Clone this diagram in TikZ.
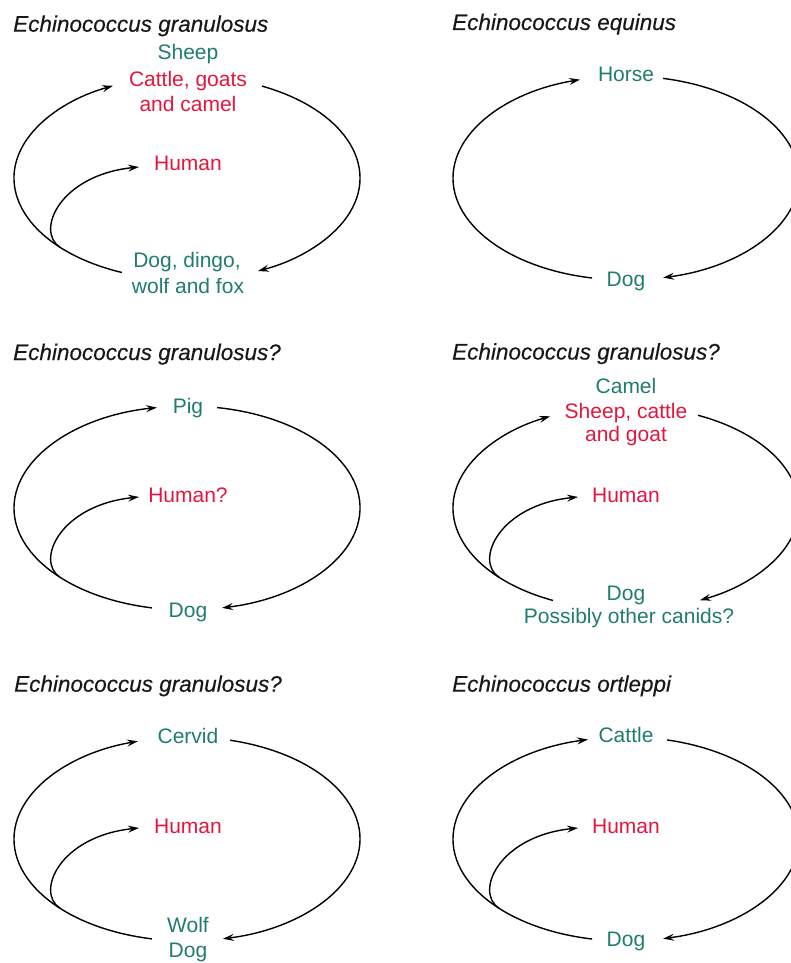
\documentclass[tikz,border=0pt]{standalone}
\usepackage{fontspec}
\setmainfont{Liberation Sans}
\newfontface\speciesface[FakeBold=0.35]{Liberation Sans Italic}
\usetikzlibrary{arrows.meta,calc}

\definecolor{hostteal}{RGB}{32,124,110}
\definecolor{hostred}{RGB}{228,22,62}
\definecolor{titleink}{RGB}{24,24,24}

\tikzset{
  cyclearrow/.style={draw=black, line width=1.4pt,
    -{Stealth[length=11pt,width=7pt,inset=4pt]}},
  species/.style={font=\fontsize{22.5}{27}\speciesface, text=titleink,
    anchor=base west, inner sep=0pt},
  host/.style={font=\fontsize{21}{25.5}\selectfont, anchor=base, inner sep=0pt},
  definitive/.style={host, text=hostteal},
  intermediate/.style={host, text=hostred},
}

% Elliptical life cycle: #1 prefix, #2/#3 centre, #4 lower-left start angle,
% #5 upper-left end angle, #6 upper-right start angle, #7 lower-right end angle
\newcommand\hostcycle[7]{%
  \coordinate (#1c) at (#2,#3);
  \coordinate (#1ls) at ($(#1c)+(#4:173 and 102)$);
  \coordinate (#1rs) at ($(#1c)+(#6:173 and 102)$);
  \draw[cyclearrow] (#1ls) arc[start angle=#4, end angle=#5, x radius=173, y radius=102];
  \draw[cyclearrow] (#1rs) arc[start angle=#6, end angle=#7, x radius=173, y radius=102];
}
% Branch from the dog back to the human, #1 prefix of the cycle
\newcommand\humanbranch[1]{%
  \coordinate (#1m) at ($(#1c)+(137.2:173 and 102)$);
  \coordinate (#1h) at ($(#1c)+(-48,-11)$);
  \draw[cyclearrow] (#1m) .. controls ($(#1c)+(-152,53)$) and ($(#1c)+(-127,-3)$) .. (#1h);
}

\begin{document}
\begin{tikzpicture}[x=1pt,y=-1pt]
\useasboundingbox (0,0) rectangle (790,963);

% ---- Echinococcus granulosus ----
\node[species] (t1) at (13,31.7) {Echinococcus granulosus};
\node[definitive] (a1) at (188,60) {Sheep};
\node[intermediate] (b1) at (188,86.5) {Cattle, goats};
\node[intermediate] (c1) at (188,112) {and camel};
\node[intermediate] (h1) at (188,170) {Human};
\node[definitive] (d1) at (187,267) {Dog, dingo,};
\node[definitive] (e1) at (188,293) {wolf and fox};
\hostcycle{p1}{187}{178}{112.1}{244.7}{-64.3}{65.8}
\humanbranch{p1}

% ---- Echinococcus equinus ----
\node[species] (t2) at (452,30) {Echinococcus equinus};
\node[definitive] (a2) at (626,82) {Horse};
\node[definitive] (d2) at (626,286) {Dog};
\hostcycle{p2}{626}{178}{101.3}{254.6}{-77.6}{77.6}

% ---- Echinococcus granulosus? (pig) ----
\node[species] (t3) at (13,360) {Echinococcus granulosus?};
\node[definitive] (a3) at (188,413) {Pig};
\node[intermediate] (h3) at (188,502) {Human?};
\node[definitive] (d3) at (188,617) {Dog};
\hostcycle{p3}{187}{508}{101.7}{260}{-80}{78.3}
\humanbranch{p3}

% ---- Echinococcus granulosus? (camel) ----
\node[species] (t4) at (452,359.5) {Echinococcus granulosus?};
\node[definitive] (a4) at (626,393) {Camel};
\node[intermediate] (b4) at (626,418) {Sheep, cattle};
\node[intermediate] (c4) at (626,441) {and goat};
\node[intermediate] (h4) at (626,502) {Human};
\node[definitive] (d4) at (626,600) {Dog};
\node[definitive] (e4) at (629,623) {Possibly other canids?};
\hostcycle{p4}{626}{508}{115}{244}{-65.4}{64.7}
\humanbranch{p4}

% ---- Echinococcus granulosus? (cervid) ----
\node[species] (t5) at (14,691.7) {Echinococcus granulosus?};
\node[definitive] (a5) at (188,743) {Cervid};
\node[intermediate] (h5) at (188,833) {Human};
\node[definitive] (d5) at (188,932.5) {Wolf};
\node[definitive] (e5) at (188,957.5) {Dog};
\hostcycle{p5}{187}{839}{101.7}{253.5}{-75.6}{78}
\humanbranch{p5}

% ---- Echinococcus ortleppi ----
\node[species] (t6) at (452,691.7) {Echinococcus ortleppi};
\node[definitive] (a6) at (626,742.7) {Cattle};
\node[intermediate] (h6) at (626,833) {Human};
\node[definitive] (d6) at (626,946.7) {Dog};
\hostcycle{p6}{626}{839}{101.3}{257.3}{-76.3}{77.6}
\humanbranch{p6}
\end{tikzpicture}
\end{document}
